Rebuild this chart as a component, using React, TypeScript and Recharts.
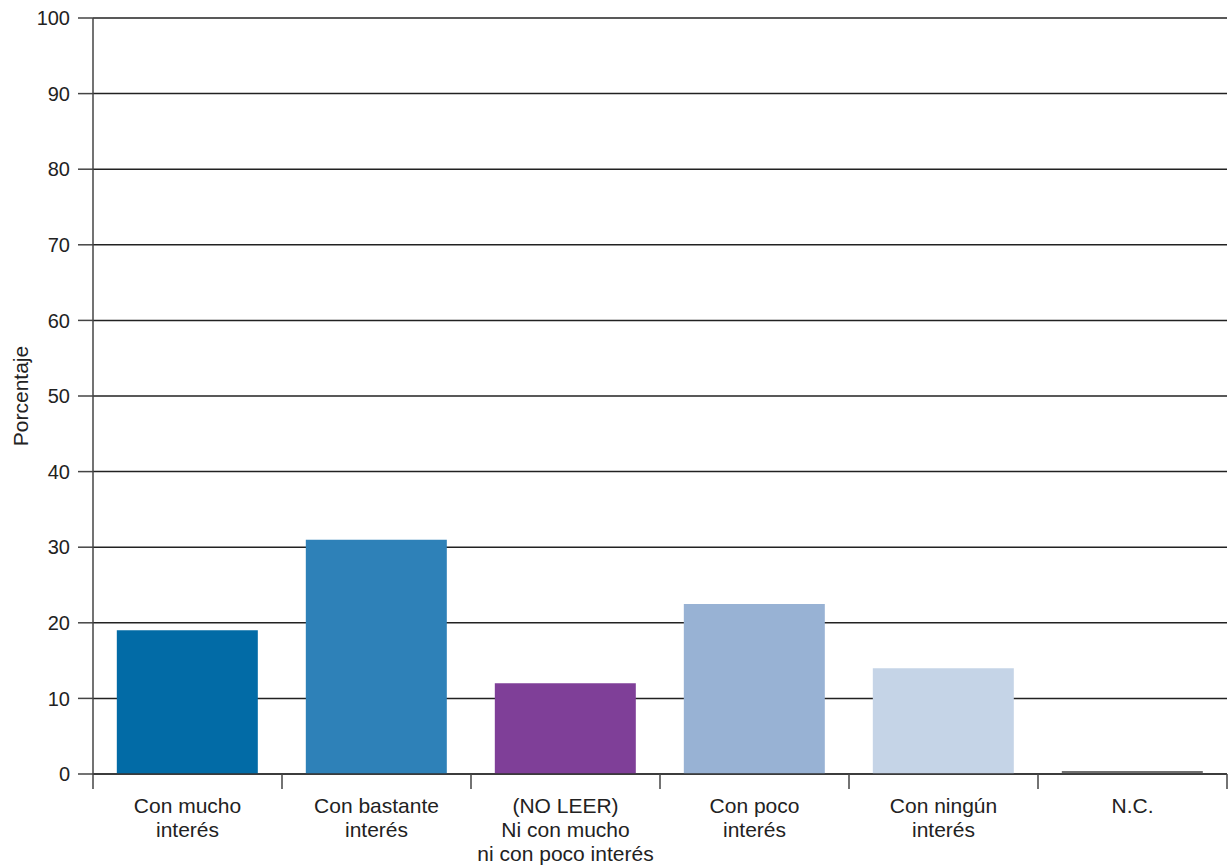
import React from "react";
import { BarChart, Bar, XAxis, YAxis, CartesianGrid, Cell } from "recharts";

const categories = [
    "Con mucho\ninterés",
    "Con bastante\ninterés",
    "(NO LEER)\nNi con mucho\nni con poco interés",
    "Con poco\ninterés",
    "Con ningún\ninterés",
    "N.C.",
];
const values = [19, 31, 12, 22.5, 14, 0.4];
const barColors = ["#026ba6", "#2e81b8", "#7f3f98", "#98b2d4", "#c5d4e7", "#6f6f6f"];
const yTicks = [0, 10, 20, 30, 40, 50, 60, 70, 80, 90, 100];

const data = categories.map((name, i) => ({ name, value: values[i] }));

const FONT = "'Liberation Sans', Arial, sans-serif";
const PLOT_LEFT = 93;
const PLOT_RIGHT = 1227;
const BAND = (PLOT_RIGHT - PLOT_LEFT) / categories.length;

// category boundaries get the tick marks, labels sit in the middle
const CategoryTick = (props: any) => {
    const { x, y, payload, index } = props;
    const lines = String(payload.value).split("\n");
    const left = x - BAND / 2;
    const right = x + BAND / 2;
    return (
        <g>
            <line x1={left} y1={y} x2={left} y2={y + 15} stroke="#444" strokeWidth={1.5} />
            {index === categories.length - 1 && (
                <line x1={right} y1={y} x2={right} y2={y + 15} stroke="#444" strokeWidth={1.5} />
            )}
            <text
                x={x}
                y={y + 39}
                textAnchor="middle"
                fill="#222"
                fontSize={21}
                fontFamily={FONT}
            >
                {lines.map((l, i) => (
                    <tspan key={i} x={x} dy={i === 0 ? 0 : 24}>
                        {l}
                    </tspan>
                ))}
            </text>
        </g>
    );
};

const YLabel = (props: any) => {
    const { viewBox } = props;
    const cy = viewBox.y + viewBox.height / 2;
    return (
        <text
            x={20}
            y={cy}
            transform={`rotate(-90, 20, ${cy})`}
            textAnchor="middle"
            dominantBaseline="central"
            fill="#222"
            style={{ fontSize: 21, fontFamily: FONT }}
        >
            Porcentaje
        </text>
    );
};

export default function App() {
    return (
        <div style={{ position: "absolute", left: 0, top: 0, background: "#fff" }}>
            <BarChart
                width={1229}
                height={867}
                data={data}
                margin={{ top: 18, right: 2, left: 0, bottom: 0 }}
                barCategoryGap="12.6%"
            >
                <CartesianGrid
                    horizontal={true}
                    vertical={false}
                    stroke="#222"
                    strokeWidth={1.5}
                />
                <XAxis
                    dataKey="name"
                    interval={0}
                    height={93}
                    tickSize={0}
                    tickMargin={0}
                    axisLine={{ stroke: "#333", strokeWidth: 1.5 }}
                    tickLine={false}
                    tick={<CategoryTick />}
                />
                <YAxis
                    domain={[0, 100]}
                    ticks={yTicks}
                    width={93}
                    tickSize={15}
                    tickMargin={8}
                    axisLine={{ stroke: "#444", strokeWidth: 1.5 }}
                    tickLine={{ stroke: "#444", strokeWidth: 1.5 }}
                    tick={{ fill: "#222", fontSize: 20, fontFamily: FONT }}
                    label={<YLabel />}
                />
                <Bar dataKey="value" isAnimationActive={false}>
                    {data.map((d, i) => (
                        <Cell key={d.name} fill={barColors[i]} />
                    ))}
                </Bar>
            </BarChart>
        </div>
    );
}
